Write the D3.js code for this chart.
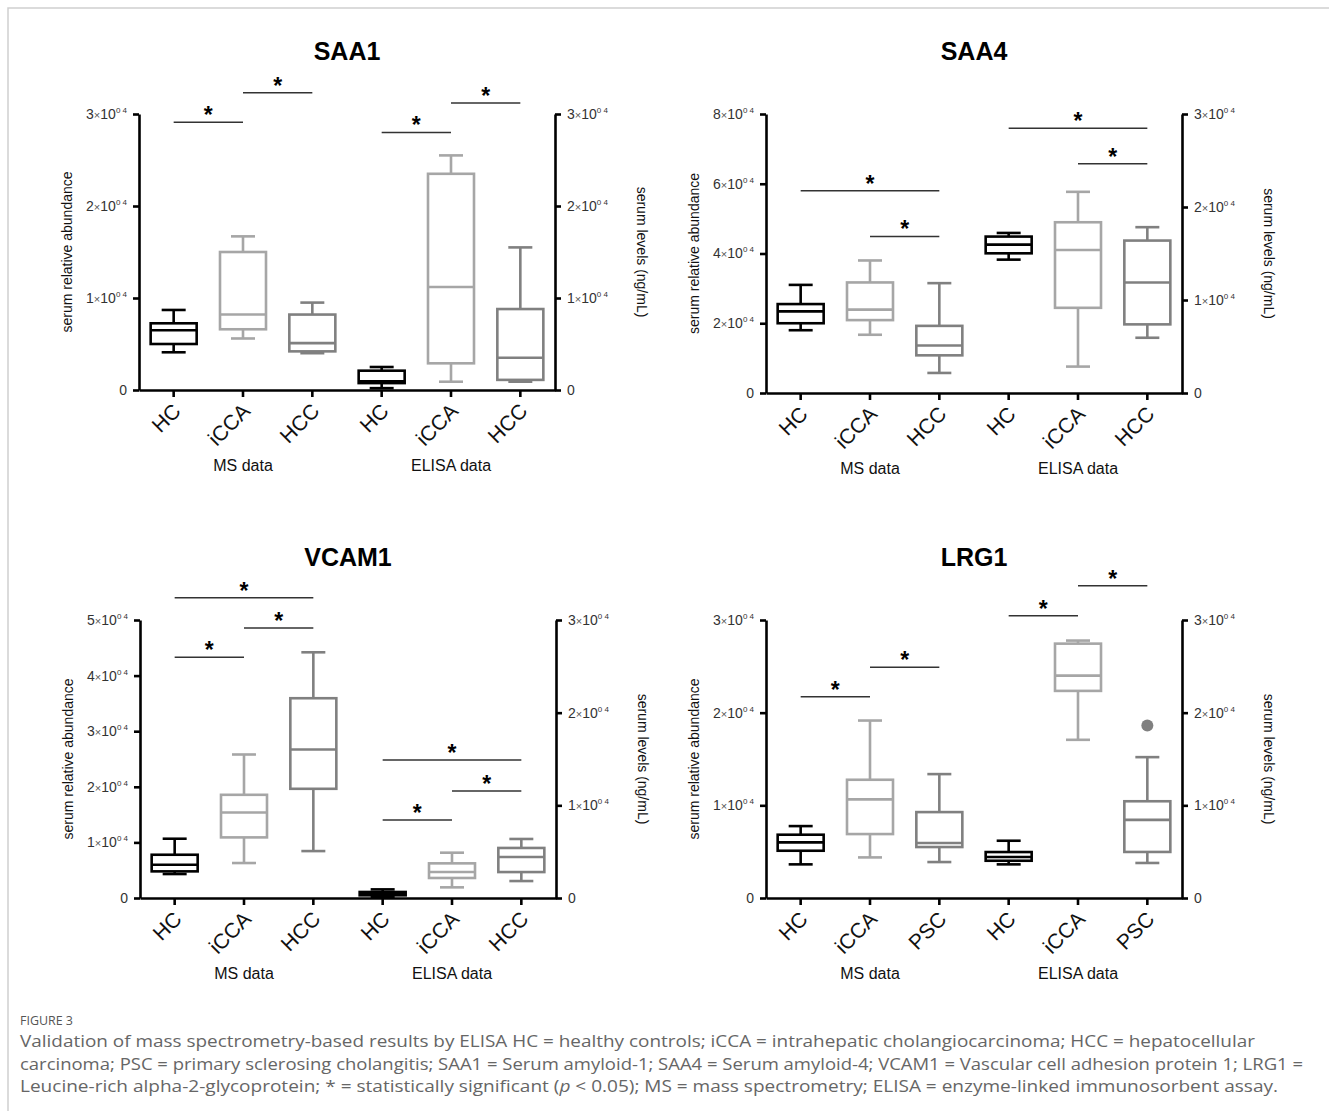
<!DOCTYPE html>
<html>
<head>
<meta charset="utf-8">
<script src="https://cdn.jsdelivr.net/npm/d3@7"></script>
<style>
  body { margin: 0; background: #fff; }
  svg { display: block; font-family: "Liberation Sans", Arial, sans-serif; }
</style>
</head>
<body>
<script>
// ---- data (values in units of 10^4) ----
var titles = ["SAA1", "SAA4", "VCAM1", "LRG1"];
var groupLabels = ["MS data", "ELISA data"];
var catsHCC = ["HC", "iCCA", "HCC", "HC", "iCCA", "HCC"];
var catsPSC = ["HC", "iCCA", "PSC", "HC", "iCCA", "PSC"];
var leftMax = [3, 8, 5, 3];
var leftTicks = [[0, 1, 2, 3], [0, 2, 4, 6, 8], [0, 1, 2, 3, 4, 5], [0, 1, 2, 3]];
var rightTicks = [0, 1, 2, 3];

// [low whisker, q1, median, q3, high whisker]; first 3 MS (left axis), last 3 ELISA (right axis)
var saa1Stats = [
  [0.41, 0.50, 0.65, 0.725, 0.87],
  [0.56, 0.66, 0.82, 1.50, 1.67],
  [0.40, 0.42, 0.51, 0.82, 0.95],
  [0.02, 0.075, 0.095, 0.21, 0.25],
  [0.09, 0.29, 1.12, 2.35, 2.55],
  [0.09, 0.11, 0.35, 0.88, 1.55]
];
var saa4Stats = [
  [1.80, 2.00, 2.34, 2.55, 3.10],
  [1.67, 2.09, 2.39, 3.17, 3.80],
  [0.575, 1.08, 1.36, 1.925, 3.15],
  [1.434, 1.502, 1.595, 1.682, 1.721],
  [0.284, 0.916, 1.538, 1.836, 2.163],
  [0.594, 0.738, 1.188, 1.639, 1.783]
];
var vcam1Stats = [
  [0.431, 0.479, 0.599, 0.778, 1.066],
  [0.629, 1.09, 1.539, 1.856, 2.581],
  [0.844, 1.964, 2.671, 3.593, 4.419],
  [0.014, 0.029, 0.047, 0.065, 0.093],
  [0.115, 0.216, 0.28, 0.374, 0.489],
  [0.183, 0.28, 0.442, 0.54, 0.637]
];
var lrg1Stats = [
  [0.363, 0.51, 0.60, 0.683, 0.776],
  [0.438, 0.69, 1.064, 1.276, 1.915],
  [0.388, 0.55, 0.593, 0.927, 1.337],
  [0.363, 0.402, 0.442, 0.496, 0.618],
  [1.707, 2.235, 2.40, 2.745, 2.778],
  [0.378, 0.497, 0.843, 1.044, 1.52]
];
var lrg1Outliers = [[5, 1.862]];

// significance bars: [from, to, level] (level on the axis of that group)
var saa1Sig = [[0, 1, 2.91], [1, 2, 3.23], [3, 4, 2.80], [4, 5, 3.12]];
var saa4Sig = [[0, 2, 5.80], [1, 2, 4.49], [3, 5, 2.846], [4, 5, 2.466]];
var vcam1Sig = [[0, 2, 5.40], [1, 2, 4.856], [0, 1, 4.33], [3, 5, 1.489], [4, 5, 1.155], [3, 4, 0.842]];
var lrg1Sig = [[0, 1, 2.172], [1, 2, 2.489], [3, 4, 3.046], [4, 5, 3.37]];

var captionLines = [
  "Validation of mass spectrometry-based results by ELISA HC = healthy controls; iCCA = intrahepatic cholangiocarcinoma; HCC = hepatocellular",
  "carcinoma; PSC = primary sclerosing cholangitis; SAA1 = Serum amyloid-1; SAA4 = Serum amyloid-4; VCAM1 = Vascular cell adhesion protein 1; LRG1 =",
  "Leucine-rich alpha-2-glycoprotein; * = statistically significant (|p| < 0.05); MS = mass spectrometry; ELISA = enzyme-linked immunosorbent assay."
];

var panels = [
  { title: titles[0], cats: catsHCC, stats: saa1Stats, sig: saa1Sig, outliers: [], lmax: leftMax[0], lticks: leftTicks[0], x0: 139, yTop: 114, yZero: 390 },
  { title: titles[1], cats: catsHCC, stats: saa4Stats, sig: saa4Sig, outliers: [], lmax: leftMax[1], lticks: leftTicks[1], x0: 766, yTop: 114, yZero: 393 },
  { title: titles[2], cats: catsHCC, stats: vcam1Stats, sig: vcam1Sig, outliers: [], lmax: leftMax[2], lticks: leftTicks[2], x0: 140, yTop: 620, yZero: 898 },
  { title: titles[3], cats: catsPSC, stats: lrg1Stats, sig: lrg1Sig, outliers: lrg1Outliers, lmax: leftMax[3], lticks: leftTicks[3], x0: 766, yTop: 620, yZero: 898 }
];

var width = 1329, height = 1111;
var plotW = 416;
var font = "'Liberation Sans', Arial, sans-serif";
var boxColors = ["#000000", "#a6a6a6", "#808080"];

var svg = d3.select("body").append("svg").attr("width", width).attr("height", height);
svg.append("rect").attr("width", width).attr("height", height).attr("fill", "#fff");

// frame
svg.append("path").attr("d", "M8," + height + "V8H" + width)
  .attr("fill", "none").attr("stroke", "#cfcfcf").attr("stroke-width", 1.5);

function tickText(sel) {
  sel.each(function (d) {
    var t = d3.select(this).text(null);
    if (d === 0) { t.text("0"); return; }
    t.append("tspan").text(d);
    t.append("tspan").text("\u00d7").attr("font-size", "11px").attr("fill", "#555");
    t.append("tspan").text("10");
    t.append("tspan").text("0 4").attr("font-size", "8px").attr("dy", "-6");
  });
}

panels.forEach(function (p) {
  var g = svg.append("g").attr("font-family", font);
  var x = d3.scaleBand().domain(d3.range(6)).range([p.x0, p.x0 + plotW]);
  var yL = d3.scaleLinear().domain([0, p.lmax]).range([p.yZero, p.yTop]);
  var yR = d3.scaleLinear().domain([0, 3]).range([p.yZero, p.yTop]);
  var yOf = function (i) { return i < 3 ? yL : yR; };
  var cx = function (i) { return x(i) + x.bandwidth() / 2; };

  // title
  g.append("text").attr("x", p.x0 + plotW / 2).attr("y", p.yTop - 54)
    .attr("text-anchor", "middle").attr("font-weight", "bold").attr("font-size", "25px")
    .text(p.title);

  // left axis
  var la = g.append("g").attr("transform", "translate(" + p.x0 + ",0)")
    .call(d3.axisLeft(yL).tickValues(p.lticks).tickSize(6).tickSizeOuter(0).tickPadding(6));
  // right axis
  var ra = g.append("g").attr("transform", "translate(" + (p.x0 + plotW) + ",0)")
    .call(d3.axisRight(yR).tickValues(rightTicks).tickSize(6).tickSizeOuter(0).tickPadding(6));
  [la, ra].forEach(function (a) {
    a.attr("font-family", font);
    a.select(".domain").attr("stroke", "#000").attr("stroke-width", 2.6);
    a.selectAll(".tick line").attr("stroke", "#000").attr("stroke-width", 2.6);
    a.selectAll(".tick text").attr("font-size", "14px").attr("fill", "#333").call(tickText);
  });

  // bottom axis
  var ba = g.append("g").attr("transform", "translate(0," + p.yZero + ")")
    .call(d3.axisBottom(x).tickSize(7).tickSizeOuter(0).tickFormat(""));
  ba.select(".domain").attr("stroke", "#000").attr("stroke-width", 2.6);
  ba.selectAll(".tick line").attr("stroke", "#000").attr("stroke-width", 2.6);

  // category labels
  g.selectAll(".cat").data(p.cats).enter().append("text")
    .attr("transform", function (d, i) { return "translate(" + (cx(i) - 2) + "," + (p.yZero + 12) + ") rotate(-45)"; })
    .attr("text-anchor", "end").attr("dy", "0.7em").attr("font-size", "21px").attr("fill", "#111")
    .text(function (d) { return d; });

  // group labels
  groupLabels.forEach(function (lab, k) {
    g.append("text").attr("x", cx(k * 3 + 1)).attr("y", p.yZero + 81)
      .attr("text-anchor", "middle").attr("font-size", "16px").attr("fill", "#111").text(lab);
  });

  // axis titles
  var midY = (p.yTop + p.yZero) / 2;
  g.append("text").attr("transform", "translate(" + (p.x0 - 67) + "," + midY + ") rotate(-90)")
    .attr("text-anchor", "middle").attr("font-size", "14px").attr("fill", "#111")
    .text("serum relative abundance");
  g.append("text").attr("transform", "translate(" + (p.x0 + plotW + 82) + "," + midY + ") rotate(90)")
    .attr("text-anchor", "middle").attr("font-size", "14px").attr("fill", "#111")
    .text("serum levels (ng/mL)");

  // boxes
  var bw = 46, cw = 24;
  p.stats.forEach(function (s, i) {
    var y = yOf(i), c = cx(i), col = boxColors[i % 3];
    var b = g.append("g").attr("stroke", col).attr("stroke-width", 2.6).attr("fill", "none");
    b.append("line").attr("x1", c).attr("x2", c).attr("y1", y(s[0])).attr("y2", y(s[1]));
    b.append("line").attr("x1", c).attr("x2", c).attr("y1", y(s[3])).attr("y2", y(s[4]));
    b.append("line").attr("x1", c - cw / 2).attr("x2", c + cw / 2).attr("y1", y(s[0])).attr("y2", y(s[0]));
    b.append("line").attr("x1", c - cw / 2).attr("x2", c + cw / 2).attr("y1", y(s[4])).attr("y2", y(s[4]));
    b.append("rect").attr("x", c - bw / 2).attr("width", bw)
      .attr("y", y(s[3])).attr("height", y(s[1]) - y(s[3])).attr("fill", "#fff");
    b.append("line").attr("x1", c - bw / 2).attr("x2", c + bw / 2).attr("y1", y(s[2])).attr("y2", y(s[2]));
  });

  // outliers
  p.outliers.forEach(function (o) {
    g.append("circle").attr("cx", cx(o[0])).attr("cy", yOf(o[0])(o[1])).attr("r", 6).attr("fill", "#808080");
  });

  // significance bars
  p.sig.forEach(function (s) {
    var yy = yOf(s[0])(s[2]);
    g.append("line").attr("x1", cx(s[0])).attr("x2", cx(s[1])).attr("y1", yy).attr("y2", yy)
      .attr("stroke", "#333").attr("stroke-width", 1.5);
    g.append("text").attr("x", (cx(s[0]) + cx(s[1])) / 2).attr("y", yy + 1)
      .attr("text-anchor", "middle").attr("font-size", "23px").attr("font-weight", "bold").text("*");
  });
});

// caption
var cap = svg.append("g").attr("font-family", "'Open Sans', 'Noto Sans', sans-serif");
cap.append("text").attr("x", 20).attr("y", 1025).attr("font-size", "12px").attr("fill", "#555")
  .attr("textLength", 53).attr("lengthAdjust", "spacingAndGlyphs").text("FIGURE 3");
var capEnds = [1255, 1303, 1278];
captionLines.forEach(function (line, k) {
  var t = cap.append("text").attr("x", 20).attr("y", 1047 + k * 22.5).attr("font-size", "17px")
    .attr("fill", "#666").attr("textLength", capEnds[k] - 20).attr("lengthAdjust", "spacingAndGlyphs");
  line.split("|").forEach(function (part, j) {
    var ts = t.append("tspan").text(part);
    if (j % 2 === 1) ts.attr("font-style", "italic");
  });
});
</script>
</body>
</html>
